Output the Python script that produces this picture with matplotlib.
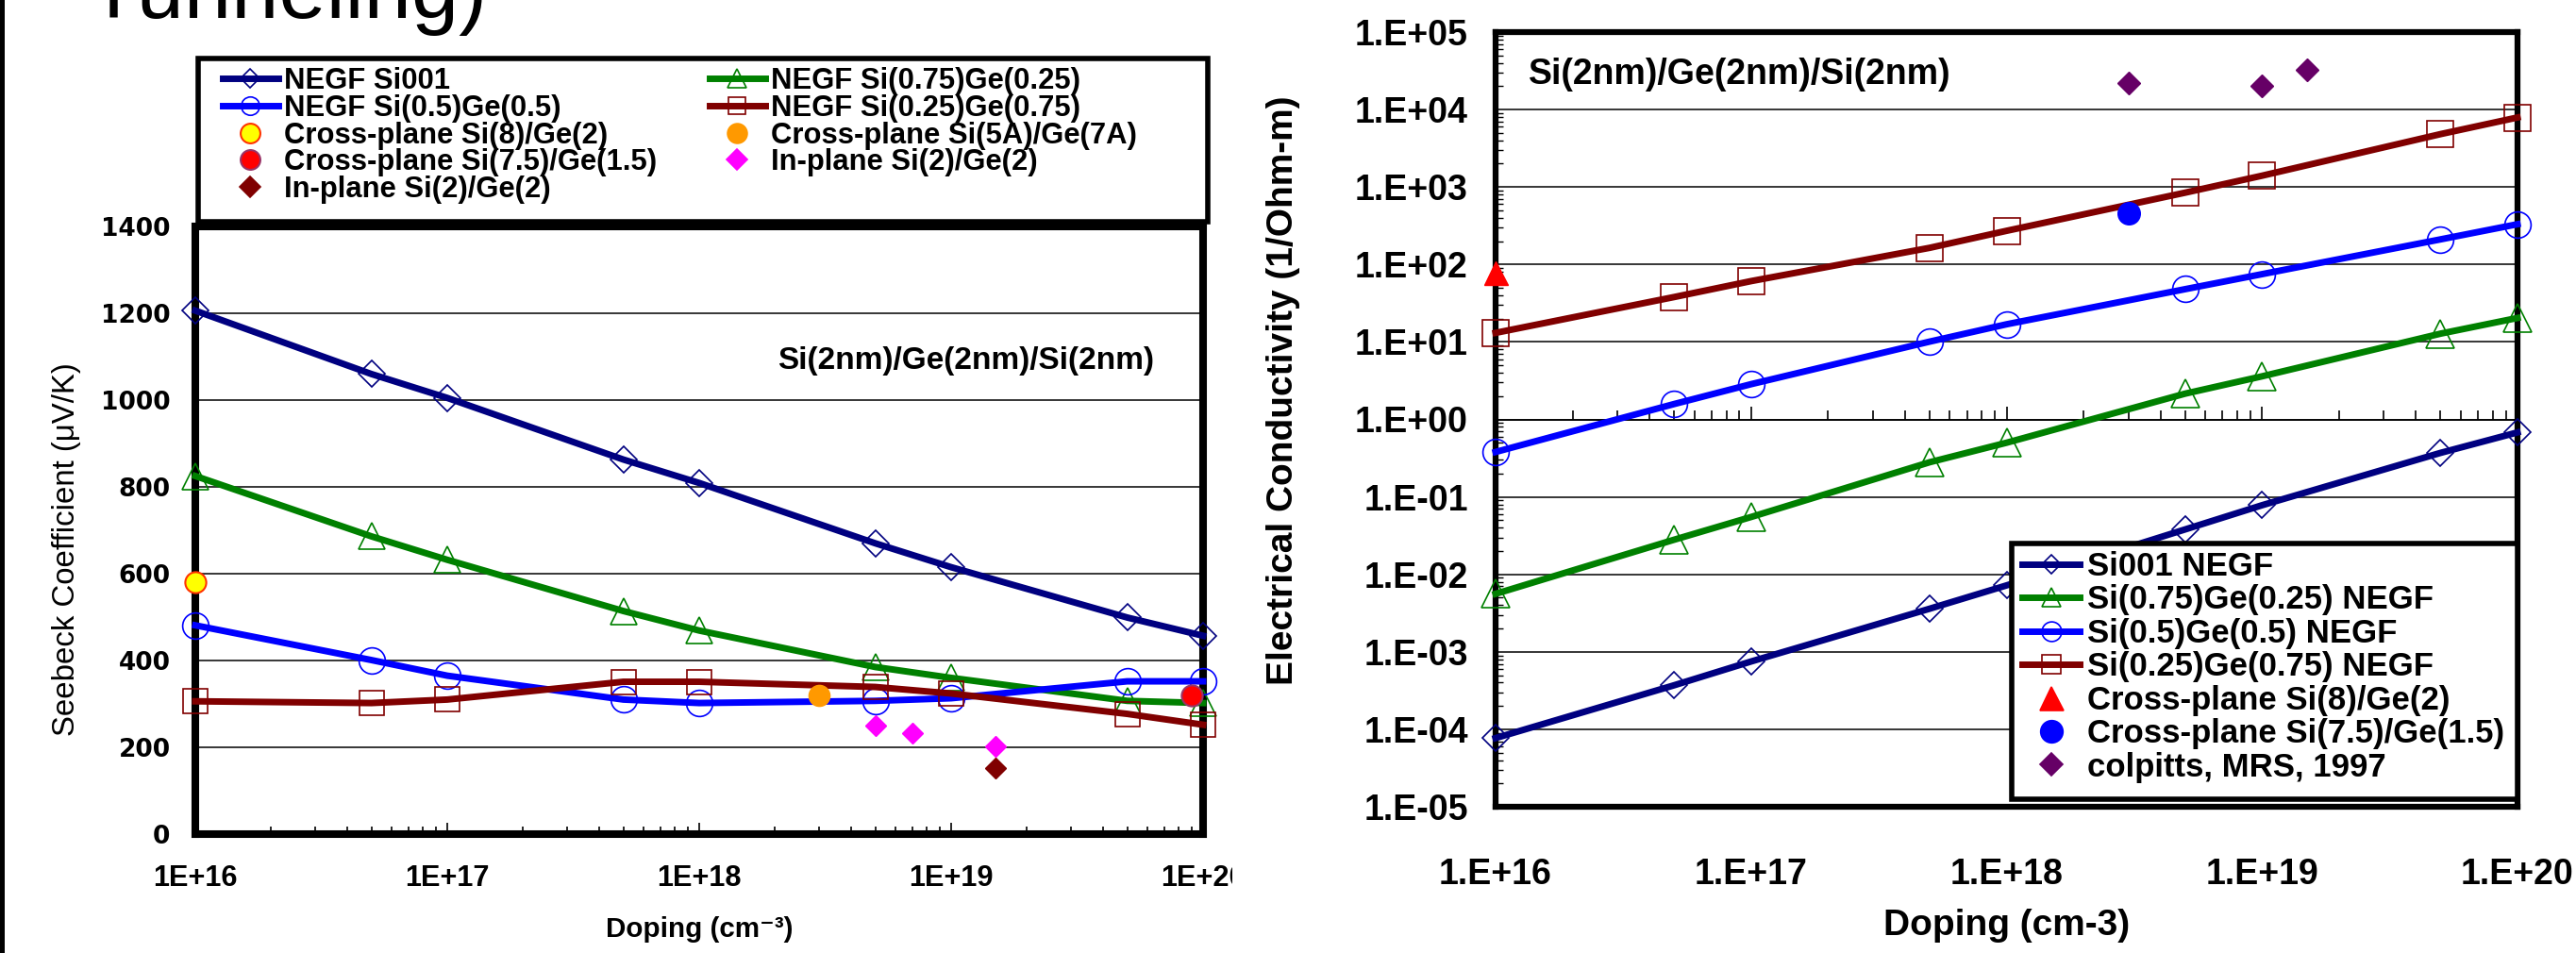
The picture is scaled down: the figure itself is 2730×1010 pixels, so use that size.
import numpy as np
import matplotlib
matplotlib.use('Agg')
import matplotlib.pyplot as plt
from matplotlib import font_manager as fm
from matplotlib.font_manager import FontProperties
from matplotlib.patches import Rectangle
from matplotlib.lines import Line2D
from matplotlib.ticker import FixedLocator, FuncFormatter, LogLocator, NullFormatter

# ---------------- data ----------------
doping = [1e16, 5e16, 1e17, 5e17, 1e18, 5e18, 1e19, 5e19, 1e20]

seebeck_si001 = [1206, 1060, 1005, 863, 809, 670, 615, 499, 457]
seebeck_si75 = [825, 686, 632, 514, 469, 385, 360, 307, 302]
seebeck_si50 = [481, 401, 365, 310, 302, 307, 313, 352, 352]
seebeck_si25 = [306, 302, 310, 351, 351, 339, 324, 277, 252]

s_cp82_x = [1e16]
s_cp82 = [580]
s_cp5a7a_x = [3e18]
s_cp5a7a = [320]
s_cp7515_x = [9e19]
s_cp7515 = [320]
s_ip_mag_x = [5e18, 7e18, 1.5e19]
s_ip_mag = [251, 232, 202]
s_ip_mar_x = [1.5e19]
s_ip_mar = [152]

cond_si001 = [7.7e-5, 3.7e-4, 7.5e-4, 3.6e-3, 7.2e-3, 0.038, 0.078, 0.37, 0.68]
cond_si75 = [0.0056, 0.028, 0.055, 0.28, 0.50, 2.15, 3.6, 12.8, 20.4]
cond_si50 = [0.38, 1.58, 2.85, 10.1, 16.9, 48, 75, 211, 331]
cond_si25 = [13.1, 38, 61, 164, 272, 845, 1400, 4820, 7900]
c_cp82_x = [1e16]
c_cp82 = [78]
c_cp7515_x = [3e18]
c_cp7515 = [460]
colpitts_x = [3e18, 1e19, 1.5e19]
colpitts = [22000, 20000, 33000]

left_legend_labels = ['NEGF Si001', 'NEGF Si(0.5)Ge(0.5)', 'Cross-plane Si(8)/Ge(2)',
                      'Cross-plane Si(7.5)/Ge(1.5)', 'In-plane Si(2)/Ge(2)',
                      'NEGF Si(0.75)Ge(0.25)', 'NEGF Si(0.25)Ge(0.75)',
                      'Cross-plane Si(5A)/Ge(7A)', 'In-plane Si(2)/Ge(2)']
right_legend_labels = ['Si001 NEGF', 'Si(0.75)Ge(0.25) NEGF', 'Si(0.5)Ge(0.5) NEGF',
                       'Si(0.25)Ge(0.75) NEGF', 'Cross-plane Si(8)/Ge(2)',
                       'Cross-plane Si(7.5)/Ge(1.5)', 'colpitts, MRS, 1997']

# ---------------- style ----------------
NAVY, BLUE, GREEN, DRED = '#000080', '#0000FF', '#008000', '#800000'
names = {f.name for f in fm.fontManager.ttflist}
HAS_NARROW = 'Liberation Sans Narrow' in names
NARROW = ['Liberation Sans Narrow', 'Liberation Sans', 'DejaVu Sans']
nscale = 1.0 if HAS_NARROW else 0.82

W, H = 2730, 1010
fig = plt.figure(figsize=(W / 100, H / 100), dpi=100)
fig.patch.set_facecolor('white')


def fx(p):
    return p / W


def fy(p):
    return 1 - p / H


# ================= LEFT: Seebeck =================
ax1 = fig.add_axes([fx(207), fy(884), (1275 - 207) / W, (884 - 240) / H])
ax1.set_xscale('log')
ax1.set_xlim(1e16, 1e20)
ax1.set_ylim(0, 1400)
lw = 5
ax1.plot(doping, seebeck_si001, color=NAVY, lw=lw, marker='D', ms=14.5, mfc='none',
         mec=NAVY, mew=1.2, clip_on=False, zorder=3)
ax1.plot(doping, seebeck_si75, color=GREEN, lw=lw, marker='^', ms=20, mfc='none',
         mec=GREEN, mew=1.2, clip_on=False, zorder=3)
ax1.plot(doping, seebeck_si50, color=BLUE, lw=lw, marker='o', ms=20, mfc='none',
         mec=BLUE, mew=1.2, clip_on=False, zorder=3)
ax1.plot(doping, seebeck_si25, color=DRED, lw=lw, marker='s', ms=19, mfc='none',
         mec=DRED, mew=1.2, clip_on=False, zorder=3)
ax1.plot(s_cp82_x, s_cp82, ls='none', marker='o', ms=16, mfc='#FFFF00', mec='#FF3300',
         mew=1.5, clip_on=False, zorder=4)
ax1.plot(s_cp5a7a_x, s_cp5a7a, ls='none', marker='o', ms=16, mfc='#FF9900', mec='#FF9900',
         clip_on=False, zorder=4)
ax1.plot(s_cp7515_x, s_cp7515, ls='none', marker='o', ms=16, mfc='#FF0000', mec='#993366',
         mew=1.5, clip_on=False, zorder=4)
ax1.plot(s_ip_mag_x, s_ip_mag, ls='none', marker='D', ms=11.5, mfc='#FF00FF', mec='#FF00FF',
         clip_on=False, zorder=4)
ax1.plot(s_ip_mar_x, s_ip_mar, ls='none', marker='D', ms=11.5, mfc='#800000', mec='#800000',
         clip_on=False, zorder=4)

ax1.yaxis.set_major_locator(FixedLocator(range(0, 1401, 200)))
ax1.grid(axis='y', color='black', lw=1.1)
ax1.set_axisbelow(True)
ax1.xaxis.set_major_locator(FixedLocator([1e16, 1e17, 1e18, 1e19, 1e20]))
ax1.xaxis.set_minor_locator(LogLocator(base=10, subs=np.arange(2, 10)))
ax1.xaxis.set_minor_formatter(NullFormatter())
ax1.xaxis.set_major_formatter(FuncFormatter(lambda v, p: '1E%+d' % round(np.log10(v))))
ax1.tick_params(axis='y', length=0, pad=19,
                labelsize=19, labelfontfamily='DejaVu Sans')
for t in ax1.get_yticklabels():
    t.set_fontweight('bold')
ax1.tick_params(axis='x', which='major', direction='in', length=9, width=1.2, pad=23,
                labelsize=27 * nscale, labelfontfamily=NARROW)
ax1.tick_params(axis='x', which='minor', direction='in', length=6, width=1.2)
for t in ax1.get_xticklabels():
    t.set_fontweight('bold')
for s in ax1.spines.values():
    s.set_linewidth(5.8)
ax1.set_xlabel('Doping (cm\u207b\u00b3)', family=NARROW, weight='bold', fontsize=26 * nscale)
ax1.xaxis.set_label_coords(0.5, -0.157)
ax1.xaxis.label.set_va('center')
ax1.set_ylabel('Seebeck Coefficient (\u03bcV/K)', family=NARROW, fontsize=29 * nscale)
ax1.yaxis.set_label_coords(-0.128, 0.469)
ax1.yaxis.label.set_va('center')
ax1.text(0.578, 0.779, 'Si(2nm)/Ge(2nm)/Si(2nm)', transform=ax1.transAxes,
         family='Liberation Sans', weight='bold', fontsize=24, va='center', ha='left')

# ================= RIGHT: conductivity =================
ax2 = fig.add_axes([fx(1585), fy(855), (2668 - 1585) / W, (855 - 34) / H])
ax2.set_xscale('log')
ax2.set_yscale('log')
ax2.set_xlim(1e16, 1e20)
ax2.set_ylim(1e-5, 1e5)
ax2.plot(doping, cond_si001, color=NAVY, lw=lw, marker='D', ms=14, mfc='none',
         mec=NAVY, mew=1.2, clip_on=False, zorder=3)
ax2.plot(doping, cond_si75, color=GREEN, lw=lw, marker='^', ms=21, mfc='none',
         mec=GREEN, mew=1.2, clip_on=False, zorder=3)
ax2.plot(doping, cond_si50, color=BLUE, lw=lw, marker='o', ms=20, mfc='none',
         mec=BLUE, mew=1.2, clip_on=False, zorder=3)
ax2.plot(doping, cond_si25, color=DRED, lw=lw, marker='s', ms=20, mfc='none',
         mec=DRED, mew=1.2, clip_on=False, zorder=3)
ax2.plot(c_cp82_x, c_cp82, ls='none', marker='^', ms=18, mfc='#FF0000', mec='#FF0000',
         clip_on=False, zorder=4)
ax2.plot(c_cp7515_x, c_cp7515, ls='none', marker='o', ms=17, mfc='#0000FF', mec='#0000FF',
         clip_on=False, zorder=4)
ax2.plot(colpitts_x, colpitts, ls='none', marker='D', ms=12, mfc='#660066', mec='#660066',
         clip_on=False, zorder=4)

ax2.yaxis.set_major_locator(FixedLocator([10.0 ** k for k in range(-5, 6)]))
ax2.yaxis.set_minor_locator(LogLocator(base=10, subs=np.arange(2, 10), numticks=30))
ax2.yaxis.set_minor_formatter(NullFormatter())
ax2.yaxis.set_major_formatter(FuncFormatter(lambda v, p: '1.E%+03d' % round(np.log10(v))))
ax2.xaxis.set_major_locator(FixedLocator([1e16, 1e17, 1e18, 1e19, 1e20]))
ax2.xaxis.set_minor_locator(LogLocator(base=10, subs=np.arange(2, 10)))
ax2.xaxis.set_minor_formatter(NullFormatter())
ax2.xaxis.set_major_formatter(FuncFormatter(lambda v, p: '1.E%+03d' % round(np.log10(v))))
ax2.grid(axis='y', which='major', color='black', lw=1.1)
ax2.set_axisbelow(True)
ax2.tick_params(axis='y', which='major', length=0, pad=21, labelsize=27,
                labelfontfamily='Liberation Sans')
ax2.tick_params(axis='y', which='minor', direction='in', length=6, width=1.0)
ax2.tick_params(axis='x', which='both', length=0, pad=39, labelsize=27,
                labelfontfamily='Liberation Sans')
for t in ax2.get_xticklabels() + ax2.get_yticklabels():
    t.set_fontweight('bold')
for s in ax2.spines.values():
    s.set_linewidth(4.5)
ax2.set_xlabel('Doping (cm-3)', family='Liberation Sans', weight='bold', fontsize=28)
ax2.xaxis.set_label_coords(0.5, -0.153)
ax2.xaxis.label.set_va('center')
ax2.set_ylabel('Electrical Conductivity (1/Ohm-m)', family='Liberation Sans',
               weight='bold', fontsize=28)
ax2.yaxis.set_label_coords(-0.208, 0.538)
ax2.yaxis.label.set_va('center')
ax2.text(0.032, 0.945, 'Si(2nm)/Ge(2nm)/Si(2nm)', transform=ax2.transAxes,
         family='Liberation Sans', weight='bold', fontsize=27, va='center', ha='left')

# horizontal axis crossing at 1.E+00 (ticks pointing up)
axz = fig.add_axes(ax2.get_position(), sharex=ax2, sharey=ax2)
axz.patch.set_visible(False)
for k in ['top', 'left', 'right']:
    axz.spines[k].set_visible(False)
axz.spines['bottom'].set_position(('data', 1.0))
axz.spines['bottom'].set_linewidth(1.2)
axz.tick_params(axis='x', which='major', direction='in', length=10, width=1.2,
                labelbottom=False)
axz.tick_params(axis='x', which='minor', direction='in', length=7, width=1.2)
axz.tick_params(axis='y', which='both', left=False, labelleft=False)
axz.set_zorder(0.5)
ax2.set_zorder(1)
ax2.patch.set_visible(False)


# ================= legends =================
def proxy(color, marker, ms, mfc='none', mec=None, line=True, mew=1.2):
    return Line2D([], [], color=color, lw=lw if line else 0, ls='-' if line else 'none',
                  marker=marker, ms=ms, mfc=mfc, mec=mec or color, mew=mew)


h1 = [proxy(NAVY, 'D', 10), proxy(BLUE, 'o', 14),
      proxy('#FFFF00', 'o', 15, mfc='#FFFF00', mec='#FF3300', line=False, mew=1.5),
      proxy('#FF0000', 'o', 15, mfc='#FF0000', mec='#993366', line=False, mew=1.5),
      proxy('#800000', 'D', 11, mfc='#800000', line=False),
      proxy(GREEN, '^', 14), proxy(DRED, 's', 13),
      proxy('#FF9900', 'o', 15, mfc='#FF9900', line=False),
      proxy('#FF00FF', 'D', 11, mfc='#FF00FF', line=False)]
leg1 = fig.legend(h1, left_legend_labels, ncol=2, loc='upper left',
                  bbox_to_anchor=(fx(236), fy(71)), frameon=False, borderpad=0,
                  borderaxespad=0, handlelength=1.9, handletextpad=0.2,
                  columnspacing=1.8, labelspacing=-0.04, numpoints=1,
                  prop=FontProperties(family='Liberation Sans', weight='bold', size=22.3))
leg1.set_zorder(6)
fig.add_artist(Rectangle((fx(210), fy(235)), (1280 - 210) / W, (235 - 62) / H,
                         transform=fig.transFigure, fill=True, fc='white', ec='black',
                         lw=4, zorder=4))

h2 = [proxy(NAVY, 'D', 10), proxy(GREEN, '^', 15), proxy(BLUE, 'o', 15), proxy(DRED, 's', 15),
      proxy('#FF0000', '^', 18, mfc='#FF0000', line=False),
      proxy('#0000FF', 'o', 17, mfc='#0000FF', line=False),
      proxy('#660066', 'D', 12, mfc='#660066', line=False)]
leg2 = fig.legend(h2, right_legend_labels, loc='upper left',
                  bbox_to_anchor=(fx(2143), fy(584)), frameon=False, borderpad=0,
                  borderaxespad=0, handlelength=1.77, handletextpad=0.23,
                  labelspacing=0.07, numpoints=1,
                  prop=FontProperties(family='Liberation Sans', weight='bold', size=25))
leg2.set_zorder(6)
fig.add_artist(Rectangle((fx(2132), fy(847)), (2668 - 2132) / W, (847 - 576) / H,
                         transform=fig.transFigure, fill=True, fc='white', ec='black',
                         lw=4, zorder=4))

# ================= page decorations =================
fig.text(fx(93), fy(19), 'Tunneling)', fontsize=65, family='Liberation Sans',
         va='baseline', ha='left')
fig.add_artist(Rectangle((fx(1306), fy(1010)), 28 / W, 1.0, transform=fig.transFigure,
                         fc='white', ec='none', zorder=10))
fig.add_artist(Rectangle((0, 0), 5 / W, 1.0, transform=fig.transFigure,
                         fc='black', ec='none', zorder=10))

fig.savefig('out.png', dpi=100, facecolor='white')
